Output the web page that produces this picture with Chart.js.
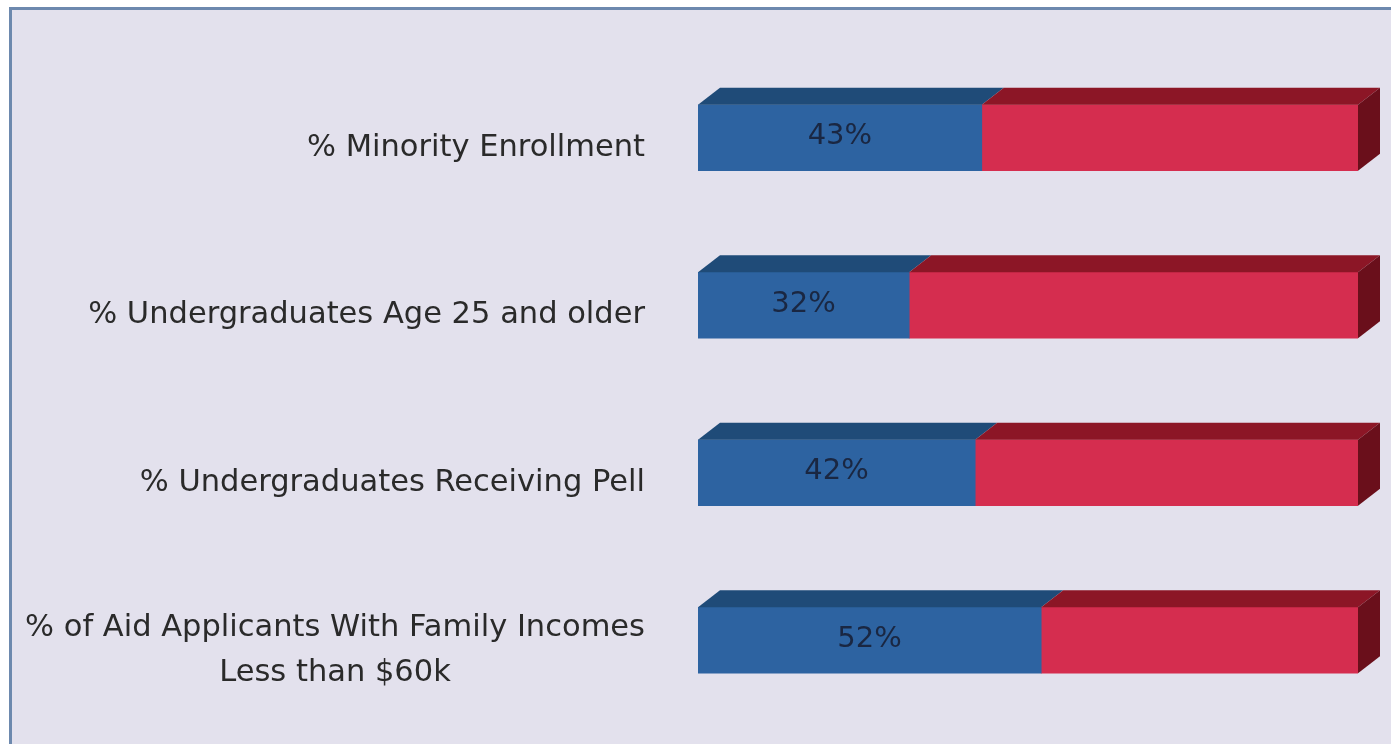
<!DOCTYPE html>
<html>
<head>
<meta charset="utf-8">
<script src="https://cdn.jsdelivr.net/npm/chart.js@4.4.1/dist/chart.umd.min.js"></script>
<style>
    html, body { margin: 0; padding: 0; background: #ffffff; overflow: hidden; }
    #frame {
        position: absolute; left: 9px; top: 7px; width: 1400px; height: 760px;
        border-left: 3px solid #6d89ae; border-top: 3px solid #6d89ae;
        background: #e3e1ed;
    }
    #chart { position: absolute; left: 0; top: 0; }
</style>
</head>
<body>
<div id="frame"></div>
<canvas id="chart" width="1391" height="744"></canvas>
<script>
// Chart data
const categories = [
    '% Minority Enrollment',
    '% Undergraduates Age 25 and older',
    '% Undergraduates Receiving Pell',
    ['% of Aid Applicants With Family Incomes', 'Less than $60k']
];
const shareValues = [43, 32, 42, 52];
const remainderValues = [57, 68, 58, 48];

const categoryFont = '30.5px "DejaVu Sans", sans-serif';
const valueFont = '29px "DejaVu Sans", sans-serif';

// Faces drawn on top of / at the end of each bar to give the 3D look
const depthX = 22;
const depthY = 17;
const topColors = ['#1f4b78', '#8c1626'];
const sideColor = '#6a0f1b';

const bar3dPlugin = {
    id: 'bar3d',
    afterDatasetsDraw(chart) {
        const ctx = chart.ctx;
        ctx.save();
        chart.data.datasets.forEach((ds, di) => {
            const meta = chart.getDatasetMeta(di);
            meta.data.forEach(el => {
                const { x, y, base, height } = el.getProps(['x', 'y', 'base', 'height'], true);
                const top = y - height / 2;
                const bottom = y + height / 2;
                ctx.fillStyle = topColors[di];
                ctx.beginPath();
                ctx.moveTo(base, top);
                ctx.lineTo(base + depthX, top - depthY);
                ctx.lineTo(x + depthX, top - depthY);
                ctx.lineTo(x, top);
                ctx.closePath();
                ctx.fill();
                if (di === chart.data.datasets.length - 1) {
                    ctx.fillStyle = sideColor;
                    ctx.beginPath();
                    ctx.moveTo(x, top);
                    ctx.lineTo(x + depthX, top - depthY);
                    ctx.lineTo(x + depthX, bottom - depthY);
                    ctx.lineTo(x, bottom);
                    ctx.closePath();
                    ctx.fill();
                }
            });
        });

        // value labels in the blue segment
        const meta = chart.getDatasetMeta(0);
        ctx.font = valueFont;
        ctx.fillStyle = '#1a2742';
        ctx.textAlign = 'center';
        ctx.textBaseline = 'middle';
        meta.data.forEach((el, i) => {
            const { x, y, base } = el.getProps(['x', 'y', 'base'], true);
            ctx.fillText(shareValues[i] + '%', (x + base) / 2, y - 1);
        });
        ctx.restore();
    },
    afterDraw(chart) {
        // category labels: right aligned block, lines centered inside the block
        const scale = chart.scales.y;
        const ctx = chart.ctx;
        const right = 645;
        const lineHeight = 45;
        ctx.save();
        ctx.font = categoryFont;
        ctx.fillStyle = '#2a2a2a';
        ctx.textAlign = 'center';
        ctx.textBaseline = 'middle';
        categories.forEach((label, i) => {
            const lines = Array.isArray(label) ? label : [label];
            const widest = Math.max(...lines.map(l => ctx.measureText(l).width));
            const cx = right - widest / 2;
            const cy = scale.getPixelForTick(i) + 10;
            lines.forEach((line, j) => {
                ctx.fillText(line, cx, cy + (j - (lines.length - 1) / 2) * lineHeight);
            });
        });
        ctx.restore();
    }
};

new Chart(document.getElementById('chart'), {
    type: 'bar',
    data: {
        labels: categories,
        datasets: [
            {
                label: 'Share',
                data: shareValues,
                backgroundColor: '#2d63a1',
                borderWidth: 0,
                barThickness: 66
            },
            {
                label: 'Remainder',
                data: remainderValues,
                backgroundColor: '#d52d4f',
                borderWidth: 0,
                barThickness: 66
            }
        ]
    },
    options: {
        indexAxis: 'y',
        responsive: false,
        animation: false,
        layout: {
            padding: { left: 0, right: 33, top: 54, bottom: 20 }
        },
        plugins: {
            legend: { display: false },
            tooltip: { enabled: false }
        },
        scales: {
            x: {
                stacked: true,
                min: 0,
                max: 100,
                display: false
            },
            y: {
                stacked: true,
                grid: { display: false },
                border: { display: false },
                ticks: { display: false },
                afterFit(scale) {
                    scale.width = 698;
                }
            }
        }
    },
    plugins: [bar3dPlugin]
});
</script>
</body>
</html>
